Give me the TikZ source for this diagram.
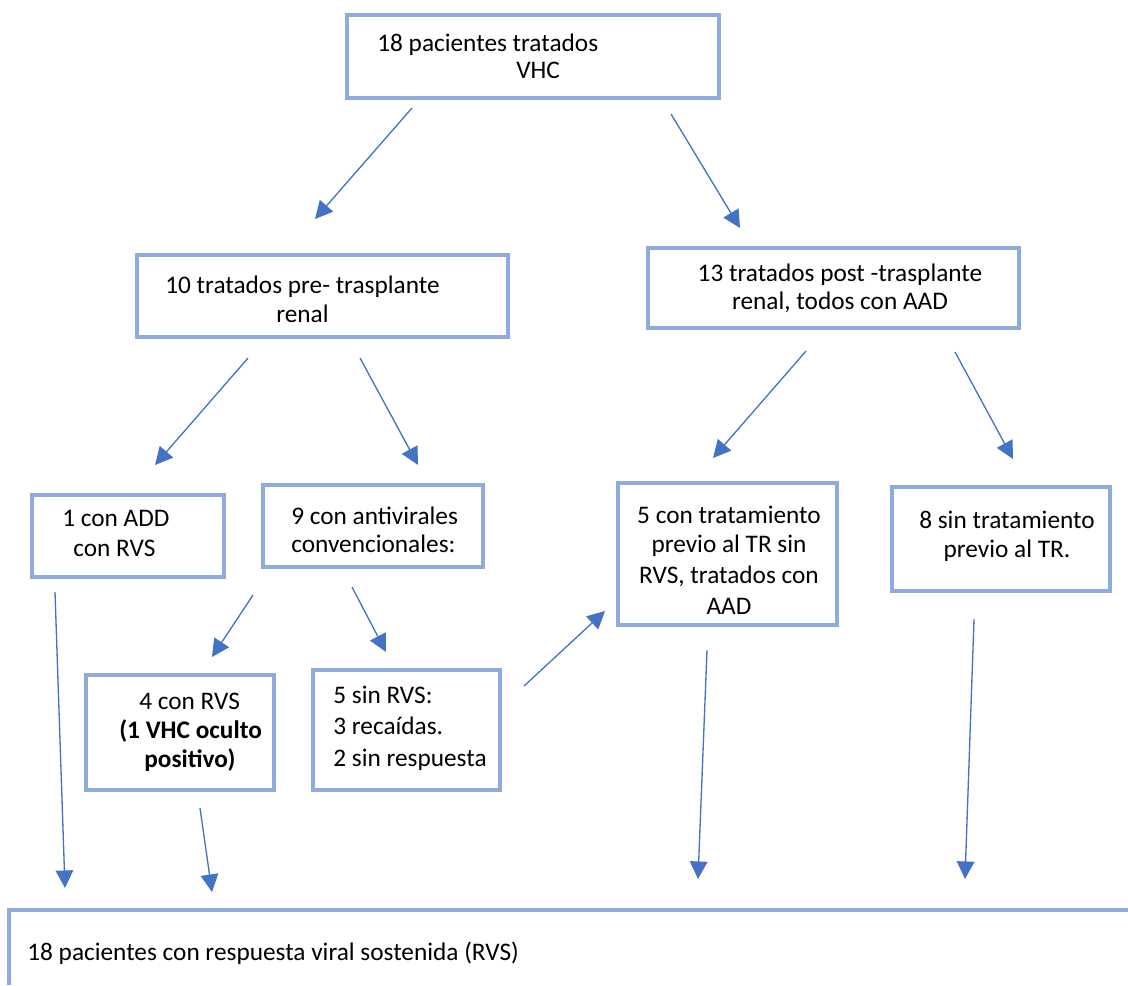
\documentclass[tikz,border=0pt]{standalone}
\usepackage{fontspec}
\setmainfont{Carlito}
\usetikzlibrary{arrows.meta}
\definecolor{boxblue}{HTML}{8FAADC}
\definecolor{arrowblue}{HTML}{4472C4}
\tikzset{
  box/.style={draw=boxblue, line width=1.8pt},
  txt/.style={anchor=base west, inner sep=0pt, font=\fontsize{14.4}{17}\selectfont},
  ctxt/.style={anchor=base, inner sep=0pt, font=\fontsize{14.4}{17}\selectfont},
  flecha/.style={draw=arrowblue, line width=0.75pt, -{Triangle[length=10pt,width=10pt]}},
}
\begin{document}
\begin{tikzpicture}[x=0.02cm, y=-0.02cm]
\useasboundingbox (0,0) rectangle (1128,985);
% boxes
\draw[box] (347,15) rectangle (719,98);
\draw[box] (137,255) rectangle (508,337);
\draw[box] (648,248) rectangle (1019,328);
\draw[box] (32,495) rectangle (224,577);
\draw[box] (263,485) rectangle (483,567);
\draw[box] (618,483) rectangle (837,625);
\draw[box] (892,487) rectangle (1110,591);
\draw[box] (86,675) rectangle (274,790);
\draw[box] (313,670) rectangle (500,790);
\draw[box] (9,985) -- (9,910) -- (1128,910);
% texts
\node[txt] (total1) at (377,51) {18 pacientes tratados};
\node[txt] (total2) at (516,78) {VHC};
\node[txt] (pre1) at (165,293) {10 tratados pre- trasplante};
\node[txt] (pre2) at (276,322) {renal};
\node[ctxt] (post1) at (840,281) {13 tratados post -trasplante};
\node[ctxt] (post2) at (840,309) {renal, todos con AAD};
\node[txt] (add1) at (62,526) {1 con ADD};
\node[txt] (add2) at (73,556) {con RVS};
\node[txt] (conv1) at (291,524) {9 con antivirales};
\node[txt] (conv2) at (291,552) {convencionales:};
\node[txt] (rvs1) at (139,709) {4 con RVS};
\node[txt, font=\fontsize{14.4}{17}\selectfont\bfseries] (rvs2) at (119,738) {(1 VHC oculto};
\node[txt, font=\fontsize{14.4}{17}\selectfont\bfseries] (rvs3) at (144,767) {positivo)};
\node[txt] (sinrvs1) at (333,703) {5 sin RVS:};
\node[txt] (sinrvs2) at (333,734) {3 recaídas.};
\node[txt] (sinrvs3) at (333,766) {2 sin respuesta};
\node[ctxt] (previo1) at (729,523) {5 con tratamiento};
\node[ctxt] (previo2) at (729,552) {previo al TR sin};
\node[ctxt] (previo3) at (729,583) {RVS, tratados con};
\node[ctxt] (previo4) at (729,614) {AAD};
\node[ctxt] (nuevo1) at (1007,528) {8 sin tratamiento};
\node[ctxt] (nuevo2) at (1007,557) {previo al TR.};
\node[txt] (final) at (27,960) {18 pacientes con respuesta viral sostenida (RVS)};
% arrows
\coordinate (a1) at (412,108); \coordinate (b1) at (315,219);
\coordinate (a2) at (671,114); \coordinate (b2) at (740,228);
\coordinate (a3) at (248,358); \coordinate (b3) at (155,465);
\coordinate (a4) at (360,358); \coordinate (b4) at (418,465);
\coordinate (a5) at (806,351); \coordinate (b5) at (713,458);
\coordinate (a6) at (955,352); \coordinate (b6) at (1013,459);
\coordinate (a7) at (55,592); \coordinate (b7) at (65,888);
\coordinate (a8) at (253,595); \coordinate (b8) at (212,657);
\coordinate (a9) at (352,587); \coordinate (b9) at (386,652);
\coordinate (a10) at (200,808); \coordinate (b10) at (212,892);
\coordinate (a11) at (524,686); \coordinate (b11) at (605,611);
\coordinate (a12) at (707,650); \coordinate (b12) at (698,879);
\coordinate (a13) at (974,619); \coordinate (b13) at (965,879);
\draw[flecha] (a1) -- (b1);
\draw[flecha] (a2) -- (b2);
\draw[flecha] (a3) -- (b3);
\draw[flecha] (a4) -- (b4);
\draw[flecha] (a5) -- (b5);
\draw[flecha] (a6) -- (b6);
\draw[flecha] (a7) -- (b7);
\draw[flecha] (a8) -- (b8);
\draw[flecha] (a9) -- (b9);
\draw[flecha] (a10) -- (b10);
\draw[flecha] (a11) -- (b11);
\draw[flecha] (a12) -- (b12);
\draw[flecha] (a13) -- (b13);
\end{tikzpicture}
\end{document}
